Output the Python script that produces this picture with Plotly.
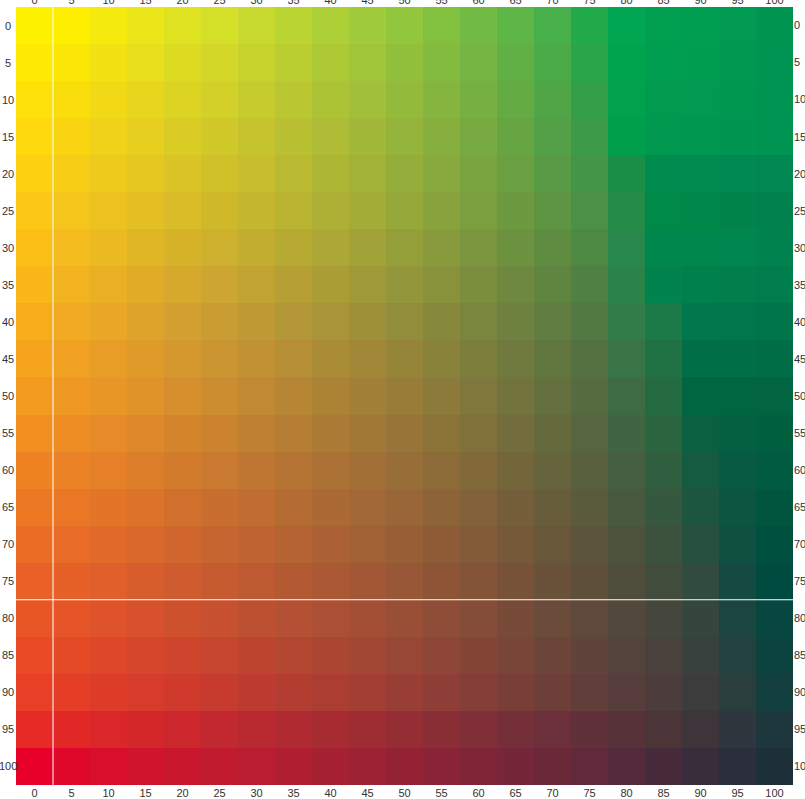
import plotly.graph_objects as go

# Axis values: cyan % (columns) and magenta % (rows)
cyan_pct = list(range(0, 101, 5))
magenta_pct = list(range(0, 101, 5))
tick_labels = [str(v) for v in cyan_pct]

row_0 = ["#FFF200", "#FEEE00", "#F4EA0E", "#EAE619", "#DEE221", "#D4DF27", "#C8DA2D",
         "#BAD532", "#ADD036", "#A0CB3A", "#92C63D", "#82C140", "#72BB44", "#5EB647",
         "#47B04A", "#23AA4B", "#00A651", "#00A050", "#009E50", "#009A51", "#009652"]
row_25 = ["#FDC815", "#F5C51C", "#ECC220", "#E3BF23", "#D9BC27", "#CFB92B", "#C5B62F",
          "#B9B332", "#AEB035", "#A2AC37", "#96A83A", "#89A33C", "#7B9F3E", "#6D9A40",
          "#5D9543", "#4B9145", "#248C47", "#008A4A", "#00884B", "#00844C", "#00814D"]
row_40 = ["#F8AE1C", "#F1AA22", "#E8A727", "#DEA32B", "#D4A02F", "#CA9D32", "#BF9A34",
          "#B49736", "#A99437", "#9E9039", "#928D3A", "#86893B", "#7A853D", "#6E813E",
          "#617D40", "#537942", "#327C47", "#1C7A49", "#00784B", "#00774B", "#00754B"]
row_50 = ["#F39A20", "#EF9823", "#E89626", "#E09329", "#D68F2C", "#CC8D30", "#C18932",
          "#B78634", "#AC8335", "#A28037", "#977D38", "#8B7A39", "#7F773B", "#72733D",
          "#64703E", "#566C40", "#3E6B44", "#246B41", "#006640", "#006640", "#006540"]
row_75 = ["#E96126", "#E66128", "#E05F2A", "#D75D2C", "#CE5C2E", "#C65B30", "#BD5A31",
          "#B45A33", "#AB5934", "#A25835", "#985736", "#8D5536", "#835437", "#775238",
          "#6A5139", "#5D4F3A", "#4F4D3B", "#424C3C", "#314B3F", "#144A41", "#004B3F"]
row_90 = ["#E84026", "#E43E27", "#DD3C29", "#D63B2B", "#CF3A2C", "#C73B2F", "#BD3B30",
          "#B43D32", "#AB3D33", "#A23E34", "#983E35", "#8E3E36", "#843E37", "#793E38",
          "#6E3E39", "#623E3B", "#573D3C", "#4C3D3C", "#3C3C3C", "#2A3E3E", "#143F3F"]
row_95 = ["#E62A25", "#E22827", "#DB2729", "#D4272A", "#CC272C", "#C2282F", "#B92930",
          "#B02B31", "#A72C32", "#9E2D33", "#942D34", "#8A2E36", "#802E37", "#752F38",
          "#6B3039", "#60313B", "#573339", "#4C3539", "#3E353B", "#2E373D", "#1E373D"]
row_100 = ["#E8002A", "#E0082A", "#D90E2C", "#D1142D", "#C9182E", "#C11B2F", "#B81D30",
           "#AF1F31", "#A62132", "#9D2233", "#932334", "#892436", "#7F2537", "#752638",
           "#6B2839", "#61293B", "#552A3B", "#482B3B", "#3A2D3B", "#2B2E3B", "#1D303A"]
sampled_rows = {0: row_0, 25: row_25, 40: row_40, 50: row_50, 75: row_75,
                90: row_90, 95: row_95, 100: row_100}

# Individual cells: (magenta %, cyan %, colour)
cell_readings = [
    (5, 80, "#00A44F"), (10, 80, "#00A24D"), (15, 80, "#009F4B"), (20, 80, "#1A8D46"),
    (30, 80, "#28874A"), (35, 80, "#2C834A"),
    (5, 85, "#009E50"), (10, 85, "#009B4F"), (15, 85, "#00994F"), (20, 85, "#008C4F"),
    (30, 85, "#00874D"), (35, 85, "#00834C"),
    (5, 90, "#009C50"), (10, 90, "#009A50"), (15, 90, "#009850"), (20, 90, "#008B50"),
    (30, 90, "#00874E"), (35, 90, "#00814C"),
    (5, 95, "#009951"), (10, 95, "#009751"), (15, 95, "#009652"), (20, 95, "#008A52"),
    (30, 95, "#00864F"), (35, 95, "#007F4D"),
    (5, 100, "#009552"), (10, 100, "#009452"), (15, 100, "#009452"), (20, 100, "#008752"),
    (30, 100, "#00834F"), (35, 100, "#007D4D"),
]


def hex_rgb(h):
    return [int(h[i:i + 2], 16) for i in (1, 3, 5)]


def row_colour(m):
    keys = sorted(sampled_rows)
    if m in sampled_rows:
        return [hex_rgb(h) for h in sampled_rows[m]]
    lo = max(k for k in keys if k < m)
    hi = min(k for k in keys if k > m)
    t = (m - lo) / (hi - lo)
    a = [hex_rgb(h) for h in sampled_rows[lo]]
    b = [hex_rgb(h) for h in sampled_rows[hi]]
    return [[round(pa[i] + (pb[i] - pa[i]) * t) for i in range(3)] for pa, pb in zip(a, b)]


rgb = [row_colour(m) for m in magenta_pct]
for m, c, h in cell_readings:
    rgb[magenta_pct.index(m)][cyan_pct.index(c)] = hex_rgb(h)

font = dict(family="Liberation Sans, Arial, sans-serif", size=11, color="#333333")

fig = go.Figure()
fig.add_trace(go.Image(z=rgb, x0=cyan_pct[0], dx=cyan_pct[1] - cyan_pct[0],
                       y0=magenta_pct[0], dy=magenta_pct[1] - magenta_pct[0],
                       hoverinfo="skip"))
fig.add_trace(go.Scatter(x=[None], y=[None], xaxis="x2", yaxis="y2",
                         showlegend=False, hoverinfo="skip"))

xr = [-2.5, 102.5]
yr = [102.5, -2.5]
axis_common = dict(showgrid=False, zeroline=False, showline=False, ticks="",
                   automargin=False, tickfont=font, tickmode="array",
                   tickvals=cyan_pct, ticktext=tick_labels)

# left-hand row labels, centred in the narrow left margin
left_labels = [dict(xref="paper", yref="y", x=0, y=m, xshift=-8, text=t,
                    showarrow=False, xanchor="center", yanchor="middle", font=font)
               for m, t in zip(magenta_pct, tick_labels)]

fig.update_layout(
    width=805, height=799,
    margin=dict(l=16, r=12, t=7, b=14, autoexpand=False),
    paper_bgcolor="white", plot_bgcolor="white",
    showlegend=False,
    hovermode=False,
    xaxis=dict(range=xr, side="bottom", **axis_common),
    xaxis2=dict(range=xr, side="top", overlaying="x", anchor="y", **axis_common),
    yaxis=dict(range=yr, side="left", scaleanchor=False, showticklabels=False,
               **{k: v for k, v in axis_common.items()}),
    yaxis2=dict(range=yr, side="right", overlaying="y", anchor="x", **axis_common),
    annotations=left_labels,
    shapes=[
        dict(type="line", xref="x", yref="paper", x0=2.5, x1=2.5, y0=0, y1=1,
             line=dict(color="white", width=1)),
        dict(type="line", xref="paper", yref="y", x0=0, x1=1, y0=77.5, y1=77.5,
             line=dict(color="white", width=1)),
    ],
)

fig.write_html("out.html",
               config={"displayModeBar": False},
               post_script="document.body.style.margin='0px';"
                           "document.body.style.overflow='hidden';")
